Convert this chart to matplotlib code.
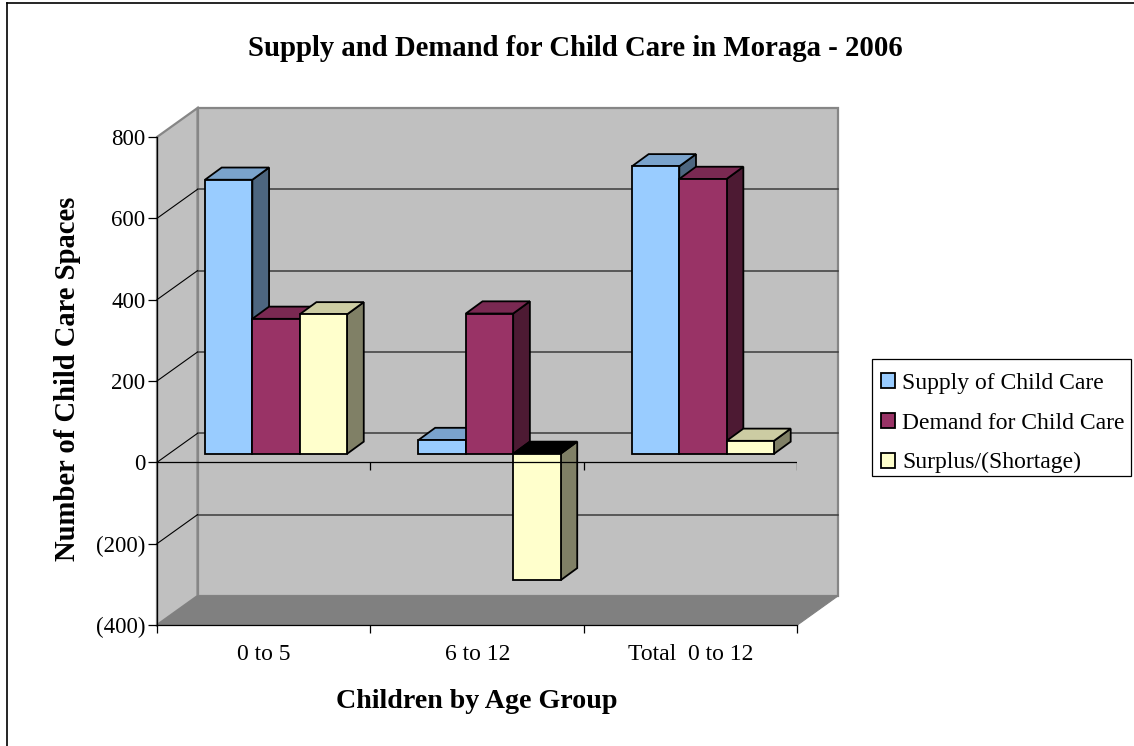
import matplotlib as mpl
mpl.use('Agg')
import matplotlib.pyplot as plt
from matplotlib.patches import Patch, Rectangle
from matplotlib.lines import Line2D
from matplotlib.colors import to_rgb
import numpy as np

mpl.rcParams['font.family'] = ['Liberation Serif', 'DejaVu Serif']

# Data
categories = ['0 to 5', '6 to 12', 'Total  0 to 12']
supply = [674, 34, 707]
demand = [332, 345, 676]
surplus = [343, -311, 32]
series_names = ['Supply of Child Care', 'Demand for Child Care', 'Surplus/(Shortage)']
y_ticks = [-400, -200, 0, 200, 400, 600, 800]
y_tick_labels = ['(400)', '(200)', '0', '200', '400', '600', '800']

colors = ['#99CCFF', '#993366', '#FFFFCC']

W, H = 1134, 746
fig = plt.figure(figsize=(W/100, H/100), dpi=100, facecolor='white')
ax = fig.add_axes([157/W, (H-625)/H, 640.4/W, 488/H])
ax.set_xlim(0, 3)
ax.set_ylim(-400, 800)
ax.patch.set_visible(False)

# 3d look: how far the back wall sits from the front axes, in data units
px_x = 3/640.4
px_y = 1200/488
wall_dx = 40.5*px_x
wall_dy = 29*px_y
ymin, ymax = -400, 800

# walls and floor
wall_col = '#C0C0C0'
edge_col = '#868686'
ax.fill([wall_dx, 3+wall_dx, 3+wall_dx, wall_dx],
        [ymin+wall_dy, ymin+wall_dy, ymax+wall_dy, ymax+wall_dy],
        fc=wall_col, ec=edge_col, lw=1.6, clip_on=False, zorder=1)
ax.fill([0, wall_dx, wall_dx, 0],
        [ymin, ymin+wall_dy, ymax+wall_dy, ymax],
        fc=wall_col, ec=edge_col, lw=1.6, clip_on=False, zorder=1)
ax.fill([0, 3, 3+wall_dx, wall_dx],
        [ymin, ymin, ymin+wall_dy, ymin+wall_dy],
        fc='#808080', ec='#808080', lw=0.8, clip_on=False, zorder=1.1)

# gridlines: back wall plus the diagonal on the side wall
for v in y_ticks[1:-1]:
    ax.plot([wall_dx, 3+wall_dx], [v+wall_dy, v+wall_dy], color='#3c3c3c', lw=1.1,
            clip_on=False, zorder=1.2)
    ax.plot([0, wall_dx], [v, v+wall_dy], color='black', lw=0.8, clip_on=False, zorder=1.2)


def shade(col, f):
    return tuple(c*f for c in to_rgb(col))


# bars, left to right so the later ones sit on top
bar_w = 47.35*px_x
bar_dx = 16.7*px_x
bar_dy = 12.2*px_y
off_x = 12.3*px_x
off_y = 8.5*px_y
edge_lw = 1.3
z = 3
for i, vals in enumerate(zip(supply, demand, surplus)):
    for j, v in enumerate(vals):
        x0 = i + 0.5 + off_x + (j-1.5)*bar_w
        x1 = x0 + bar_w
        hi = max(v, 0) + off_y
        lo = min(v, 0) + off_y
        # side face
        ax.fill([x1, x1+bar_dx, x1+bar_dx, x1], [lo, lo+bar_dy, hi+bar_dy, hi],
                fc=shade(colors[j], 0.5), ec='black', lw=edge_lw, zorder=z, joinstyle='miter')
        # top face, black when looking at the inside of a negative bar
        top_col = 'black' if v < 0 else shade(colors[j], 0.8)
        ax.fill([x0, x1, x1+bar_dx, x0+bar_dx], [hi, hi, hi+bar_dy, hi+bar_dy],
                fc=top_col, ec='black', lw=edge_lw, zorder=z, joinstyle='miter')
        ax.bar(x0, hi-lo, bar_w, bottom=lo, align='edge', color=colors[j],
               edgecolor='black', lw=edge_lw, zorder=z+0.1)
        z += 0.2

# zero axis runs over the bars
ax.axhline(0, color='black', lw=0.9, zorder=20)
ax.vlines([1, 2, 3], -8*px_y, 0, color='black', lw=0.9, zorder=20)

# axes
for s in ['top', 'right']:
    ax.spines[s].set_visible(False)
for s in ['left', 'bottom']:
    ax.spines[s].set_linewidth(0.9)
    ax.spines[s].set_zorder(21)
ax.set_yticks(y_ticks)
ax.set_yticklabels(y_tick_labels)
ax.set_xticks([0, 1, 2, 3])
ax.set_xticklabels([])
ax.set_xticks([0.5, 1.5, 2.5], minor=True)
ax.set_xticklabels(categories, minor=True)
ax.tick_params(axis='x', which='major', length=5.8, width=0.9)
ax.tick_params(axis='x', which='minor', length=0, labelsize=17, pad=14)
ax.tick_params(axis='y', length=6.2, width=0.9, labelsize=16.5, pad=2)

ax.set_xlabel('Children by Age Group', fontsize=20.2, fontweight='bold')
ax.xaxis.set_label_coords(0.5, -76/488)
ax.xaxis.label.set_va('center')
ax.set_ylabel('Number of Child Care Spaces', fontsize=20.6, fontweight='bold')
ax.yaxis.set_label_coords(-89/640.4, 0.5+2/488)
ax.yaxis.label.set_va('center')
fig.text(575/W, 1-49/H, 'Supply and Demand for Child Care in Moraga - 2006',
         fontsize=20.7, fontweight='bold', ha='center', va='center')

# legend box drawn by hand, its padding is not even on both sides
fig.add_artist(Rectangle((872/W, 1-476/H), 259/W, 116.7/H, transform=fig.transFigure,
                         fc='white', ec='black', lw=0.9))
handles = [Patch(fc=c, ec='black', lw=1.3) for c in colors]
leg = fig.legend(handles, series_names, loc='upper left',
                 bbox_to_anchor=(871/W, 1-363/H), bbox_transform=fig.transFigure,
                 fontsize=17, frameon=False,
                 handlelength=0.6, handleheight=0.6, handletextpad=0.3,
                 labelspacing=0.79, borderpad=0.42, borderaxespad=0)
leg.set_zorder(5)

# chart border: only the left and top edges show
fig.add_artist(Line2D([7/W, 7/W], [0, 1-3/H], transform=fig.transFigure, color='black', lw=1.2))
fig.add_artist(Line2D([7/W, 1], [1-3/H, 1-3/H], transform=fig.transFigure, color='black', lw=1.2))

fig.savefig('out.png', dpi=100)
